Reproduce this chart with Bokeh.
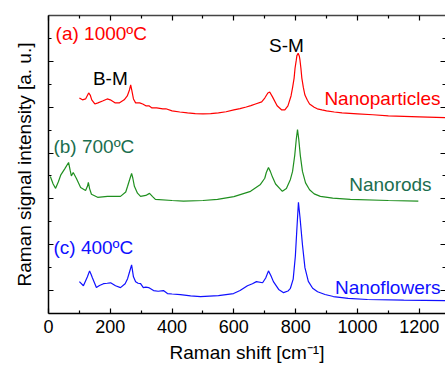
from bokeh.plotting import figure
from bokeh.models import FixedTicker, LinearAxis, Range1d
from bokeh.core.properties import value
from bokeh.embed import file_html
from bokeh.resources import INLINE

# ---- data ----
np_x = [100,110,120,125,130,135,140,150,160,175,190,200,215,230,245,255,262,266,270,275,282,295,305,315,325,335,350,370,380,400,425,450,475,500,525,550,575,600,620,640,655,670,690,700,710,716,725,740,755,765,775,785,790,795,798,802,804,808,812,814,817,820,825,830,838,845,860,870,885,900,925,950,1000,1050,1100,1200,1285]
np_y = [9.40,9.32,9.36,9.49,9.62,9.53,9.32,9.14,9.19,9.27,9.36,9.32,9.19,9.19,9.32,9.49,9.75,9.97,9.71,9.36,9.19,9.19,9.14,9.06,9.06,8.97,8.97,8.93,8.93,8.84,8.79,8.75,8.72,8.71,8.72,8.75,8.80,8.88,8.94,9.01,9.07,9.14,9.23,9.40,9.62,9.66,9.45,9.06,8.88,8.88,9.06,9.49,9.85,10.27,10.70,11.05,11.25,11.35,11.22,11.05,10.70,10.27,9.85,9.53,9.30,9.14,9.00,8.93,8.88,8.84,8.79,8.75,8.71,8.67,8.62,8.58,8.54]

nr_x = [6,15,23,32,40,52,65,70,74,80,90,104,120,126,129,133,139,159,191,233,250,256,264,269,273,278,288,298,315,327,337,346,400,437,500,547,600,654,686,700,705,712,718,725,735,757,770,783,790,797,802,806,810,815,822,832,845,860,880,920,977,1100,1197]
nr_y = [5.98,5.65,5.46,5.75,6.05,6.30,6.59,6.25,6.00,6.15,5.90,5.50,5.37,5.55,5.72,5.45,5.20,5.07,5.11,5.11,5.30,5.55,5.90,6.11,5.90,5.55,5.25,5.11,5.15,5.24,5.10,4.98,4.93,4.90,4.93,4.98,5.10,5.33,5.63,5.90,6.15,6.37,6.20,5.95,5.65,5.33,5.45,5.85,6.20,6.90,7.60,8.02,7.60,6.90,6.20,5.70,5.40,5.22,5.11,5.03,4.98,4.93,4.90]

nf_x = [100,113,126,133,138,142,155,165,178,190,201,217,233,248,256,262,269,275,282,290,298,307,315,324,340,355,372,385,400,427,460,492,550,599,620,644,660,673,693,703,712,720,728,745,761,775,783,792,799,804,809,814,818,822,830,841,855,871,895,922,970,1032,1150,1285]
nf_y = [1.39,1.21,1.60,1.86,1.70,1.56,1.13,1.22,1.30,1.32,1.34,1.21,1.13,1.30,1.52,1.80,2.12,1.60,1.39,1.32,1.30,1.13,1.15,1.13,1.00,0.97,1.00,0.87,0.85,0.82,0.77,0.74,0.78,0.87,1.00,1.21,1.30,1.39,1.34,1.55,1.86,1.65,1.39,1.05,0.91,0.98,1.10,1.50,2.50,3.70,4.85,4.20,3.60,3.00,2.00,1.40,1.10,0.95,0.83,0.74,0.66,0.61,0.58,0.56]

x_ticks = [0, 200, 400, 600, 800, 1000, 1200]
x_minor = [100, 300, 500, 700, 900, 1100]
y_ticks = [1, 3, 5, 7, 9, 11]
y_minor = [2, 4, 6, 8, 10, 12]

series_names = ["Nanoparticles", "Nanorods", "Nanoflowers"]
panel_tags = ["(a) 1000ºC", "(b) 700ºC", "(c) 400ºC"]
peak_names = ["B-M", "S-M"]

RED = "#ff0000"
GREEN_L = "#1f8f1f"
GREEN_T = "#1b6e4e"
BLUE = "#1010ff"
FONT = "Liberation Sans"

p = figure(width=445, height=365, x_range=Range1d(0, 1285), y_range=Range1d(0, 13),
           output_backend="svg", toolbar_location=None,
           min_border_left=48, min_border_right=0, min_border_top=15, min_border_bottom=50)
p.outline_line_color = None
p.grid.visible = False
p.background_fill_color = "white"

p.line(np_x, np_y, line_color=RED, line_width=1.2)
p.line(nr_x, nr_y, line_color=GREEN_L, line_width=1.2)
p.line(nf_x, nf_y, line_color=BLUE, line_width=1.2)

def style_axis(ax, labels=True):
    ax.axis_line_color = "black"
    ax.axis_line_width = 1.5
    ax.major_tick_in = 5
    ax.major_tick_out = 0
    ax.minor_tick_in = 3
    ax.minor_tick_out = 0
    ax.major_tick_line_color = "black"
    ax.minor_tick_line_color = "black"
    ax.major_tick_line_width = 1.2
    ax.minor_tick_line_width = 1.2
    if not labels:
        ax.major_label_text_font_size = "0px"
        ax.major_label_standoff = 0

xt = FixedTicker(ticks=x_ticks, minor_ticks=x_minor)
yt = FixedTicker(ticks=y_ticks, minor_ticks=y_minor)

xa = p.xaxis[0]
xa.ticker = xt
style_axis(xa)
xa.major_label_text_font = FONT
xa.major_label_text_font_size = "18px"
xa.major_label_text_color = "black"
xa.major_label_standoff = 6
xa.axis_label = "Raman shift [cm⁻¹]"
xa.axis_label_text_font = FONT
xa.axis_label_text_font_size = "19px"
xa.axis_label_text_font_style = "normal"
xa.axis_label_text_color = "black"
xa.axis_label_standoff = 6

ya = p.yaxis[0]
ya.ticker = yt
style_axis(ya, labels=False)
ya.axis_label = "Raman signal intensity [a. u.]"
ya.axis_label_text_font = FONT
ya.axis_label_text_font_size = "19px"
ya.axis_label_text_font_style = "normal"
ya.axis_label_text_color = "black"
ya.axis_label_standoff = 14

top = LinearAxis(ticker=FixedTicker(ticks=x_ticks, minor_ticks=x_minor))
style_axis(top, labels=False)
top.axis_line_color = "#444444"
p.add_layout(top, "above")

right = LinearAxis(ticker=FixedTicker(ticks=y_ticks, minor_ticks=y_minor))
style_axis(right, labels=False)
right.axis_line_color = None
p.add_layout(right, "right")

fs = value("19px")
ff = value(FONT)
p.text(x=[23], y=[12.22], text=[panel_tags[0]], text_color=RED, text_font=ff, text_font_size=fs,
       text_align="left", text_baseline="middle")
p.text(x=[16], y=[7.28], text=[panel_tags[1]], text_color=GREEN_T, text_font=ff, text_font_size=fs,
       text_align="left", text_baseline="middle")
p.text(x=[16], y=[2.90], text=[panel_tags[2]], text_color=BLUE, text_font=ff, text_font_size=fs,
       text_align="left", text_baseline="middle")
p.text(x=[1269], y=[9.36], text=[series_names[0]], text_color=RED, text_font=ff, text_font_size=fs,
       text_align="right", text_baseline="middle")
p.text(x=[1240], y=[5.63], text=[series_names[1]], text_color=GREEN_T, text_font=ff, text_font_size=fs,
       text_align="right", text_baseline="middle")
p.text(x=[1269], y=[1.13], text=[series_names[2]], text_color=BLUE, text_font=ff, text_font_size=fs,
       text_align="right", text_baseline="middle")
p.text(x=[200], y=[10.23], text=[peak_names[0]], text_color="black", text_font=ff, text_font_size=fs,
       text_align="center", text_baseline="middle")
p.text(x=[770], y=[11.70], text=[peak_names[1]], text_color="black", text_font=ff, text_font_size=fs,
       text_align="center", text_baseline="middle")

open("out.html", "w").write(file_html(p, INLINE))
